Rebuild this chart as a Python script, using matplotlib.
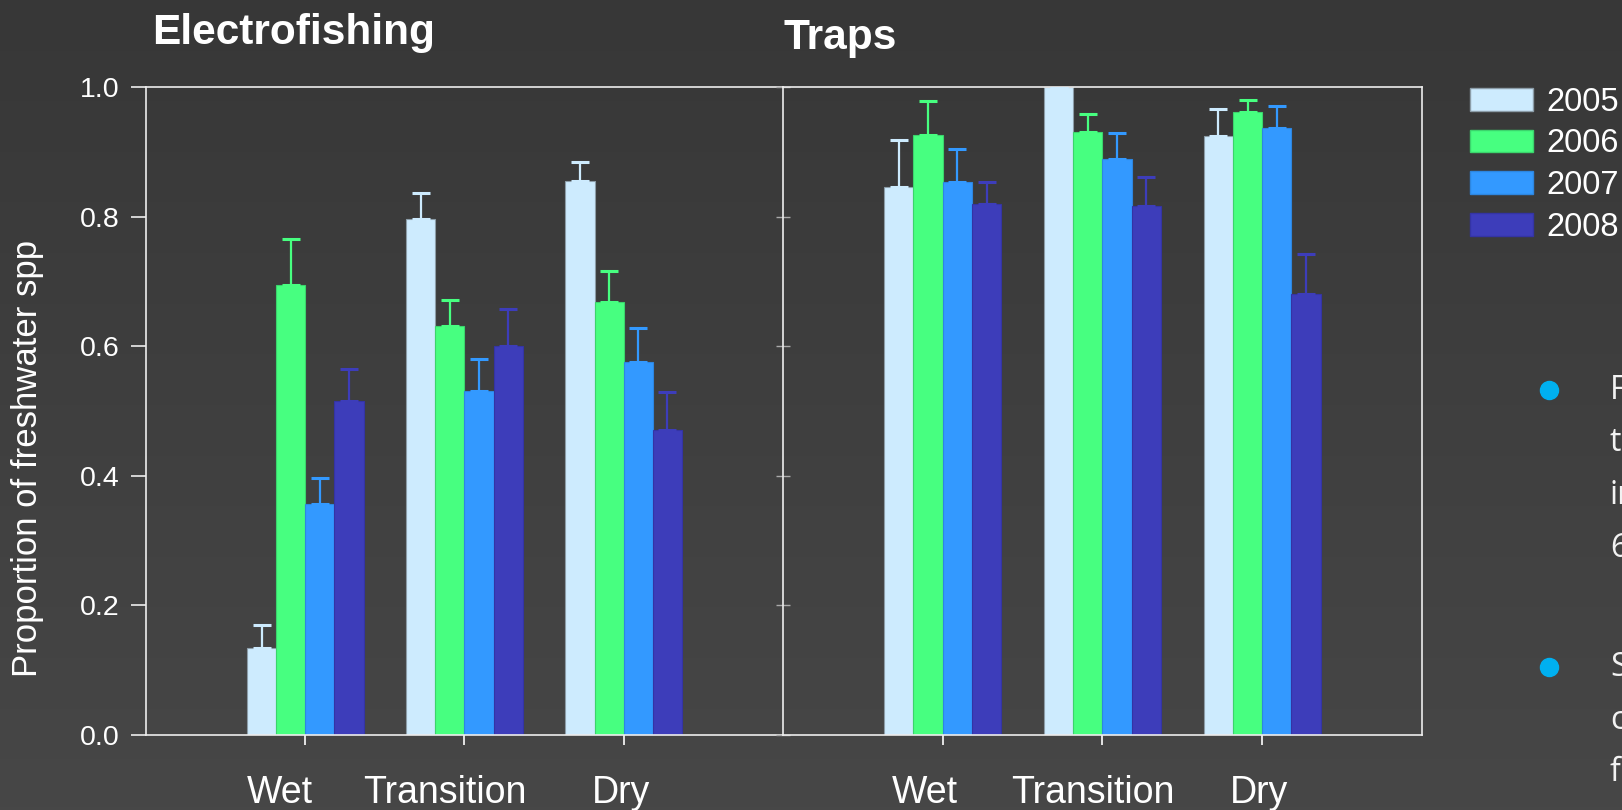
import numpy as np
import matplotlib
matplotlib.use('Agg')
import matplotlib.pyplot as plt
from matplotlib.colors import LinearSegmentedColormap
from matplotlib.patches import Patch
from matplotlib.lines import Line2D
from matplotlib.transforms import ScaledTranslation

seasons = ['Wet', 'Transition', 'Dry']
years = ['2005', '2006', '2007', '2008']
colors = ['#CDEBFE', '#47FF80', '#3399FF', '#3D3DBA']
edges = ['#8C9DA8', '#3BD46C', '#2D86E0', '#3434A4']

# proportion of freshwater spp, one list per year (Wet, Transition, Dry)
elec_2005 = [0.135, 0.796, 0.855]
elec_2006 = [0.695, 0.631, 0.668]
elec_2007 = [0.357, 0.531, 0.575]
elec_2008 = [0.516, 0.600, 0.470]
elec_se_2005 = [0.035, 0.041, 0.030]
elec_se_2006 = [0.070, 0.040, 0.048]
elec_se_2007 = [0.040, 0.049, 0.053]
elec_se_2008 = [0.049, 0.058, 0.060]

trap_2005 = [0.845, 1.000, 0.925]
trap_2006 = [0.926, 0.931, 0.961]
trap_2007 = [0.854, 0.889, 0.936]
trap_2008 = [0.819, 0.816, 0.680]
trap_se_2005 = [0.073, 0.000, 0.041]
trap_se_2006 = [0.052, 0.028, 0.019]
trap_se_2007 = [0.051, 0.040, 0.034]
trap_se_2008 = [0.035, 0.045, 0.063]

elec = [elec_2005, elec_2006, elec_2007, elec_2008]
elec_se = [elec_se_2005, elec_se_2006, elec_se_2007, elec_se_2008]
trap = [trap_2005, trap_2006, trap_2007, trap_2008]
trap_se = [trap_se_2005, trap_se_2006, trap_se_2007, trap_se_2008]

plt.rcParams['font.family'] = ['Liberation Sans', 'DejaVu Sans']

fig = plt.figure(figsize=(16.22, 8.10), dpi=100)

# grey gradient background
bg = fig.add_axes([0, 0, 1, 1], zorder=-10)
grad = np.linspace(0, 1, 256).reshape(-1, 1)
bg.imshow(grad, aspect='auto', extent=[0, 1, 0, 1],
          cmap=LinearSegmentedColormap.from_list('bg', ['#373737', '#474747']))
bg.axis('off')

ax1 = fig.add_axes([0.0900, 0.0926, 0.3927, 0.800])
ax2 = fig.add_axes([0.4827, 0.0926, 0.3940, 0.800])

x = np.arange(1, len(seasons) + 1)
w = 0.183

def draw_panel(ax, means, ses, label_shift):
    for i in range(len(years)):
        pos = x + (i - 1.5) * w
        ax.bar(pos, means[i], width=w, color=colors[i], edgecolor=edges[i],
               linewidth=0.8, zorder=2)
        ax.errorbar(pos, means[i], yerr=[np.zeros(len(seasons)), ses[i]],
                    fmt='none', ecolor=colors[i], elinewidth=1.6,
                    capsize=6.5, capthick=2.2, zorder=3)
    ax.set_xlim(0, 4)
    ax.set_ylim(0, 1.0)
    ax.set_facecolor('none')
    ax.set_xticks(x)
    ax.set_xticklabels(seasons, fontsize=27, color='white')
    ax.tick_params(axis='x', length=7, width=1.2, color='white', pad=22)
    # the slide labels sit a little left of their ticks
    for lab, dx in zip(ax.get_xticklabels(), label_shift):
        lab.set_transform(lab.get_transform() + ScaledTranslation(dx / 72, 0, fig.dpi_scale_trans))
    for sp in ax.spines.values():
        sp.set_color('#EDEDED')
        sp.set_linewidth(1.2)

draw_panel(ax1, elec, elec_se, [-18, -14, -2])
draw_panel(ax2, trap, trap_se, [-13, -7, -2])

ax1.spines['right'].set_visible(False)
ax1.set_yticks(np.arange(0, 1.01, 0.2))
ax1.set_yticklabels(['%.1f' % v for v in np.arange(0, 1.01, 0.2)],
                    fontsize=20.5, color='white')
ax1.tick_params(axis='y', length=11, width=1.2, color='#EDEDED', pad=8)

ax2.set_yticks(np.arange(0, 1.01, 0.2))
ax2.set_yticklabels([])
ax2.tick_params(axis='y', direction='inout', length=10, width=1.0, color='#AAAAAA')
ax2.xaxis.get_major_ticks()[2].tick1line.set_color('#47FF80')

fig.text(0.0937, 0.946, 'Electrofishing', fontsize=30.5, fontweight='bold',
         color='white', ha='left', va='baseline')
fig.text(0.4830, 0.940, 'Traps', fontsize=30.5, fontweight='bold',
         color='white', ha='left', va='baseline')
fig.text(0.017, 0.434, 'Proportion of freshwater spp', fontsize=25,
         color='white', rotation=90, ha='center', va='center')

handles = [Patch(facecolor=colors[i], edgecolor=edges[i]) for i in range(len(years))]
fig.legend(handles, years, loc='upper left', bbox_to_anchor=(0.9065, 0.893),
           frameon=False, fontsize=23.5, labelcolor='white', handlelength=1.92,
           handleheight=0.70, handletextpad=0.40, labelspacing=0.33,
           borderpad=0, borderaxespad=0)

# bullet text cut off at the right edge of the slide
bullet_lines = [['F', 't', 'in', '6'], ['S', 'c', 'f']]
bullet_tops = [0.5185, 0.1765]
for lines, yb in zip(bullet_lines, bullet_tops):
    fig.add_artist(Line2D([0.955], [yb], marker='o', markersize=13,
                          color='#00B0F0', transform=fig.transFigure))
    for k, s in enumerate(lines):
        fig.text(0.9925, yb - k * 0.0654, s, fontsize=23, family='Open Sans',
                 color='#F2F2F2', ha='left', va='center')

fig.savefig('out.png', dpi=100)
